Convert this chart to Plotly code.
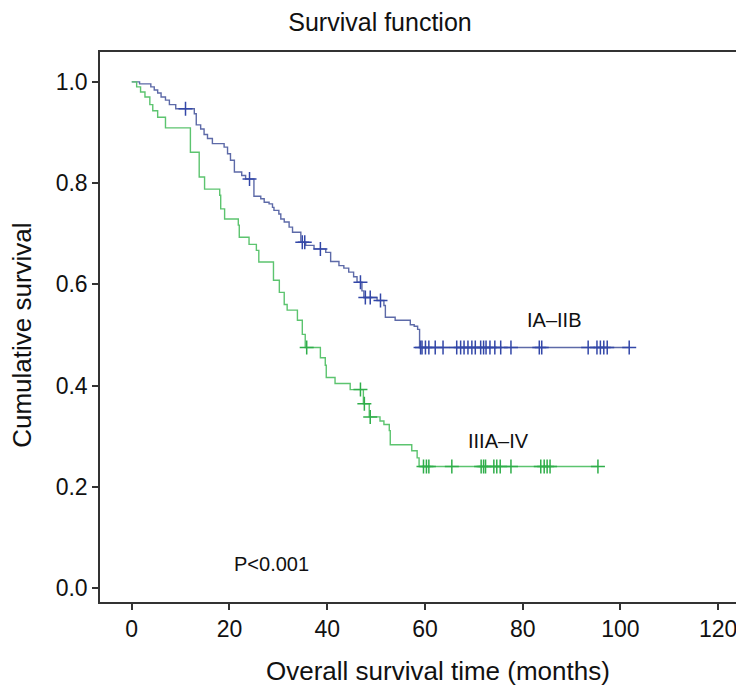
import plotly.graph_objects as go
import bisect

# ---- Data ----
blue_times = [1.6, 3.9, 4.6, 5.3, 6.0, 6.9, 7.7, 9.0, 12.8, 13.2, 14.1, 14.8, 15.5, 16.5,
              18.9, 19.6, 20.2, 21.0, 22.5, 23.3, 25.0, 26.4, 27.1, 28.1, 28.8, 29.1, 30.1,
              30.5, 31.2, 32.2, 32.9, 34.6, 35.6, 37.3, 39.7, 40.7, 42.4, 43.4, 44.4, 45.4,
              46.1, 47.1, 47.5, 50.2, 51.6, 51.9, 53.9, 57.0, 57.8, 58.5, 58.9]
blue_surv = [0.996, 0.990, 0.984, 0.978, 0.970, 0.964, 0.955, 0.947, 0.937, 0.915, 0.907,
             0.896, 0.888, 0.878, 0.871, 0.858, 0.845, 0.822, 0.815, 0.808, 0.774, 0.769,
             0.762, 0.759, 0.752, 0.746, 0.739, 0.729, 0.723, 0.713, 0.703, 0.683, 0.677,
             0.670, 0.663, 0.645, 0.637, 0.632, 0.624, 0.615, 0.604, 0.587, 0.574, 0.568,
             0.558, 0.535, 0.529, 0.520, 0.517, 0.511, 0.475]
blue_end = 101.8
blue_censor = [11.0, 24.1, 34.9, 35.4, 38.6, 46.8, 47.8, 48.8, 50.9,
               59.1, 59.4, 60.1, 60.8, 62.1, 63.7, 66.5, 67.3, 68.0, 68.8, 69.6, 70.3,
               71.4, 72.0, 72.5, 73.3, 74.3, 75.5, 77.6, 83.4, 83.9, 93.4, 95.2, 95.9,
               96.6, 97.3, 101.8]

green_times = [1.0, 1.8, 2.7, 3.7, 4.3, 5.3, 6.9, 12.0, 13.8, 14.9, 18.0, 18.2, 19.0, 21.8,
               22.0, 24.0, 25.5, 26.0, 29.0, 30.2, 31.2, 31.8, 33.9, 34.9, 35.5, 38.6, 39.6,
               39.8, 41.6, 44.7, 47.4, 48.6, 50.8, 51.6, 52.7, 52.9, 57.3, 58.4, 58.8]
green_surv = [0.990, 0.980, 0.970, 0.955, 0.943, 0.930, 0.909, 0.861, 0.812, 0.788, 0.776,
              0.749, 0.729, 0.717, 0.693, 0.679, 0.667, 0.644, 0.608, 0.584, 0.560, 0.549,
              0.529, 0.501, 0.475, 0.455, 0.440, 0.416, 0.404, 0.392, 0.364, 0.338, 0.330,
              0.323, 0.311, 0.283, 0.271, 0.257, 0.240]
green_end = 95.4
green_censor = [35.8, 46.8, 47.6, 48.8, 59.7, 60.3, 60.8, 65.5, 71.5, 72.0, 72.4, 74.1,
                74.7, 75.4, 77.6, 83.7, 84.4, 85.0, 85.6, 95.4]

x_ticks = [0, 20, 40, 60, 80, 100, 120]
y_ticks = [0.0, 0.2, 0.4, 0.6, 0.8, 1.0]

BLUE_LINE = "#5d6aa8"
BLUE_MARK = "#3347a8"
GREEN_LINE = "#5cc46f"
GREEN_MARK = "#2fae4a"


def step_xy(times, surv, end):
    xs = [0.0] + list(times) + [end]
    ys = [1.0] + list(surv) + [surv[-1]]
    return xs, ys


def surv_at(times, surv, t):
    i = bisect.bisect_right(times, t)
    return 1.0 if i == 0 else surv[i - 1]


fig = go.Figure()
for times, surv, end, cens, lc, mc, name in [
    (blue_times, blue_surv, blue_end, blue_censor, BLUE_LINE, BLUE_MARK, "IA–IIB"),
    (green_times, green_surv, green_end, green_censor, GREEN_LINE, GREEN_MARK, "IIIA–IV"),
]:
    xs, ys = step_xy(times, surv, end)
    fig.add_trace(go.Scatter(x=xs, y=ys, mode="lines", line=dict(color=lc, width=1.4, shape="hv"),
                             name=name, showlegend=False, hoverinfo="skip"))
    fig.add_trace(go.Scatter(x=cens, y=[surv_at(times, surv, t) for t in cens], mode="markers",
                             marker=dict(symbol="cross-thin", size=10, line=dict(color=mc, width=1.5)),
                             showlegend=False, hoverinfo="skip"))

FONT = "Liberation Sans, Arial, sans-serif"
TXT = "#111"

PLOT_H = 688 - 44 - 94

fig.add_annotation(x=86.5, y=0.529, text="IA–IIB", showarrow=False,
                   font=dict(family=FONT, size=20, color=TXT))
fig.add_annotation(x=75, y=0.29, text="IIIA–IV", showarrow=False,
                   font=dict(family=FONT, size=20, color=TXT))
fig.add_annotation(x=28.6, y=0.048, text="P<0.001", showarrow=False,
                   font=dict(family=FONT, size=20, color=TXT))

# axis titles placed as paper annotations
fig.add_annotation(xref="paper", yref="paper", x=0.523, y=-(663 - 594) / PLOT_H,
                   xanchor="center", yanchor="middle", text="Overall survival time (months)",
                   showarrow=False, font=dict(family=FONT, size=26, color=TXT))
fig.add_annotation(xref="paper", yref="paper", x=-0.121, y=(594 - 327) / PLOT_H,
                   xanchor="center", yanchor="middle", text="Cumulative survival",
                   textangle=-90, showarrow=False, font=dict(family=FONT, size=26, color=TXT))

fig.update_layout(
    width=744, height=688,
    margin=dict(l=92, r=4, t=44, b=94),
    paper_bgcolor="white", plot_bgcolor="white",
    title=dict(text="Survival function", x=0.5, xanchor="center", y=1 - 14 / 688,
               yanchor="middle", font=dict(family=FONT, size=25, color=TXT)),
)
fig.update_xaxes(range=[-6.5, 125.7], tickvals=x_ticks, ticktext=[str(v) for v in x_ticks],
                 showgrid=False, zeroline=False, showline=True, linecolor="#333", linewidth=1.5,
                 mirror=True, ticks="outside", ticklen=6, tickcolor="#333", tickwidth=1.5,
                 tickfont=dict(family=FONT, size=23, color=TXT))
fig.update_yaxes(range=[-0.0277, 1.059], tickvals=y_ticks, ticktext=[f"{v:.1f}" for v in y_ticks],
                 showgrid=False, zeroline=False, showline=True, linecolor="#333", linewidth=1.5,
                 mirror=True, ticks="outside", ticklen=6, tickcolor="#333", tickwidth=1.5,
                 tickfont=dict(family=FONT, size=23, color=TXT))

fig.write_html("out.html")
